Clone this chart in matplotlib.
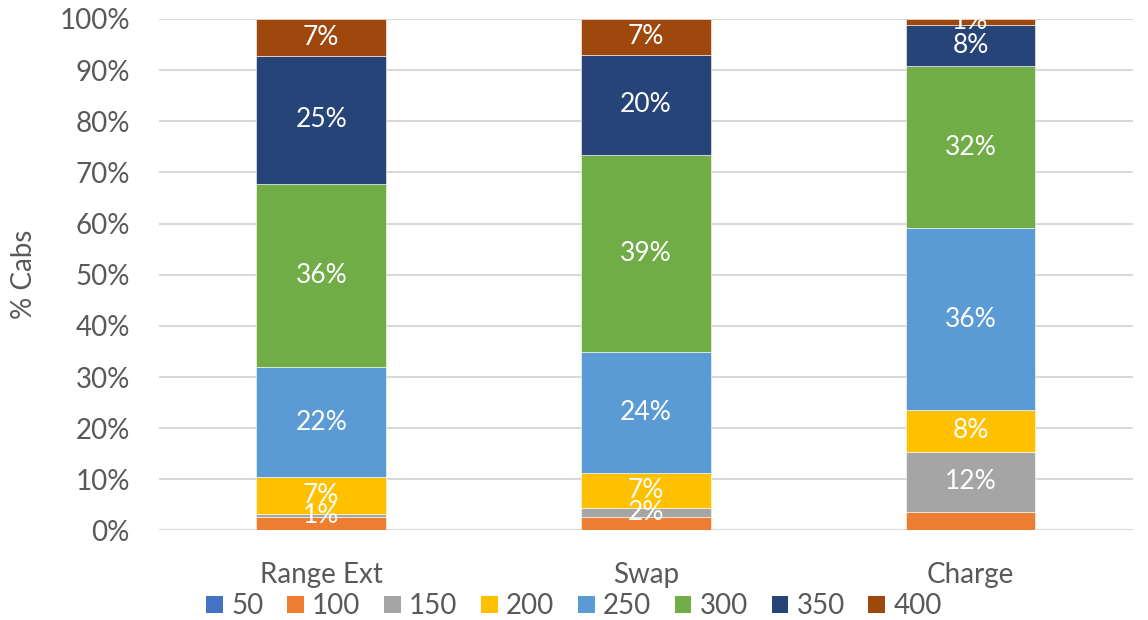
import numpy as np
import matplotlib
matplotlib.use("Agg")
from matplotlib import pyplot as plt
from matplotlib.patches import Patch

plt.rcParams['font.family'] = ['Lato', 'DejaVu Sans']

categories = ["Range Ext", "Swap", "Charge"]
series_names = ["50", "100", "150", "200", "250", "300", "350", "400"]

# percent of cabs per series, one entry per category
s50 = [0.0, 0.0, 0.0]
s100 = [2.7, 2.6, 3.6]
s150 = [0.6, 1.8, 11.8]
s200 = [7.1, 6.8, 8.1]
s250 = [21.6, 23.6, 35.6]
s300 = [35.7, 38.6, 31.7]
s350 = [25.1, 19.6, 8.1]
s400 = [7.2, 7.0, 1.1]

colors = ["#4472C4", "#ED7D31", "#A5A5A5", "#FFC000",
          "#5B9BD5", "#70AD47", "#264478", "#9E480E"]
labelled = [False, False, True, True, True, True, True, True]

grey = "#595959"
fs = 20

fig = plt.figure(figsize=(11.48, 6.2), dpi=100)
ax = fig.add_axes([0.1385, 0.1444, 0.8482, 0.825])

x = np.arange(len(categories))
bottom = np.zeros(len(categories))
all_series = [s50, s100, s150, s200, s250, s300, s350, s400]
for name, vals, col, lab in zip(series_names, all_series, colors, labelled):
    vals = np.array(vals)
    ax.bar(x, vals, 0.4, bottom=bottom, color=col, edgecolor="white",
           linewidth=0.4, zorder=3, label=name)
    if lab:
        for xi, b, v in zip(x, bottom, vals):
            if v > 0:
                ax.text(xi, b + v / 2, f"{v:.0f}%", ha="center", va="center",
                        color="white", fontsize=19, zorder=5, clip_on=False)
    bottom += vals

ax.set_xlim(-0.5, 2.5)
ax.set_ylim(0, 100)
ax.set_yticks(np.arange(0, 101, 10))
ax.set_yticklabels([f"{t}%" for t in range(0, 101, 10)])
ax.set_xticks(x)
ax.set_xticklabels(categories)
ax.tick_params(axis="both", length=0, labelsize=fs, labelcolor=grey)
ax.tick_params(axis="y", pad=21)
ax.tick_params(axis="x", pad=23)
ax.grid(axis="y", color="#D9D9D9", linewidth=1.5, zorder=0)
for sp in ax.spines.values():
    sp.set_visible(False)
ax.set_ylabel("% Cabs", fontsize=fs, color=grey, labelpad=16)

handles = [Patch(facecolor=c) for c in colors]
fig.legend(handles, series_names, loc="center", bbox_to_anchor=(0.5, 0.022),
           ncol=8, frameon=False, fontsize=fs, labelcolor=grey,
           handlelength=0.6, handleheight=0.6, handletextpad=0.3,
           columnspacing=0.85)

fig.savefig("out.png", dpi=100)
